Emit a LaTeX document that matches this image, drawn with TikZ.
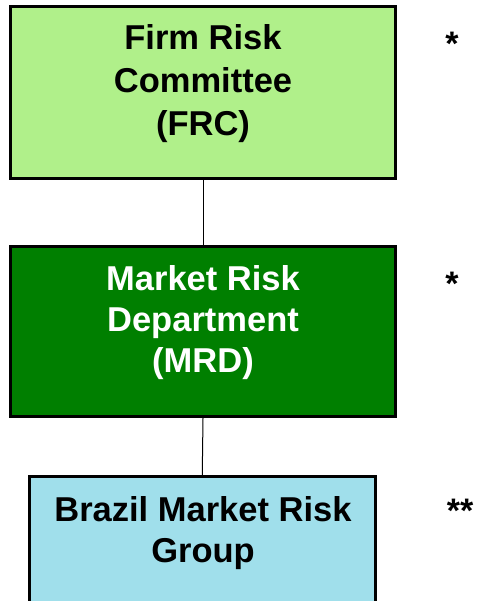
\documentclass[tikz,border=0pt]{standalone}
\usepackage{fontspec}
\setmainfont{Liberation Sans}
\definecolor{frcfill}{HTML}{B0F08A}
\definecolor{mrdfill}{HTML}{007F00}
\definecolor{brgfill}{HTML}{A0DFEB}
\begin{document}
\begin{tikzpicture}[x=1pt,y=-1pt,
  orgbox/.style={draw=black, line width=3pt, minimum width=385pt, inner sep=0pt},
  lbl/.style={align=center, anchor=base, inner sep=0pt, font=\bfseries},
  conn/.style={draw=black, line width=1pt},
  star/.style={anchor=base, inner sep=0pt, font=\fontsize{34}{40}\selectfont\bfseries}]
\useasboundingbox (0,0) rectangle (479,601);
\clip (0,0) rectangle (479,601);
\fill[white] (0,0) rectangle (479,601);
% boxes
\node[orgbox, fill=frcfill, minimum height=172pt] (frc) at (203,92.5) {};
\node[orgbox, fill=mrdfill, minimum height=170pt] (mrd) at (203,331.5) {};
\node[orgbox, fill=brgfill, minimum width=346.5pt, minimum height=180pt] (brg) at (202.25,566.5) {};
% texts
\node[lbl, font=\fontsize{34.5}{43}\selectfont\bfseries] (frct) at (203,136) {Firm Risk\\Committee\\(FRC)};
\node[lbl, text=white, font=\fontsize{34.5}{41}\selectfont\bfseries] (mrdt) at (203,372) {Market Risk\\Department\\(MRD)};
\node[lbl, font=\fontsize{34.5}{41}\selectfont\bfseries] (brgt) at (203,562) {Brazil Market Risk\\Group};
% connectors
\draw[conn] (frc.south) -- (mrd.north);
\draw[conn] (mrd.south) -- (brg.north);
% asterisks
\node[star] (s1) at (452,55.6) {*};
\node[star] (s2) at (452,295) {*};
\node[star] (s3) at (460,522) {**};
\end{tikzpicture}
\end{document}
